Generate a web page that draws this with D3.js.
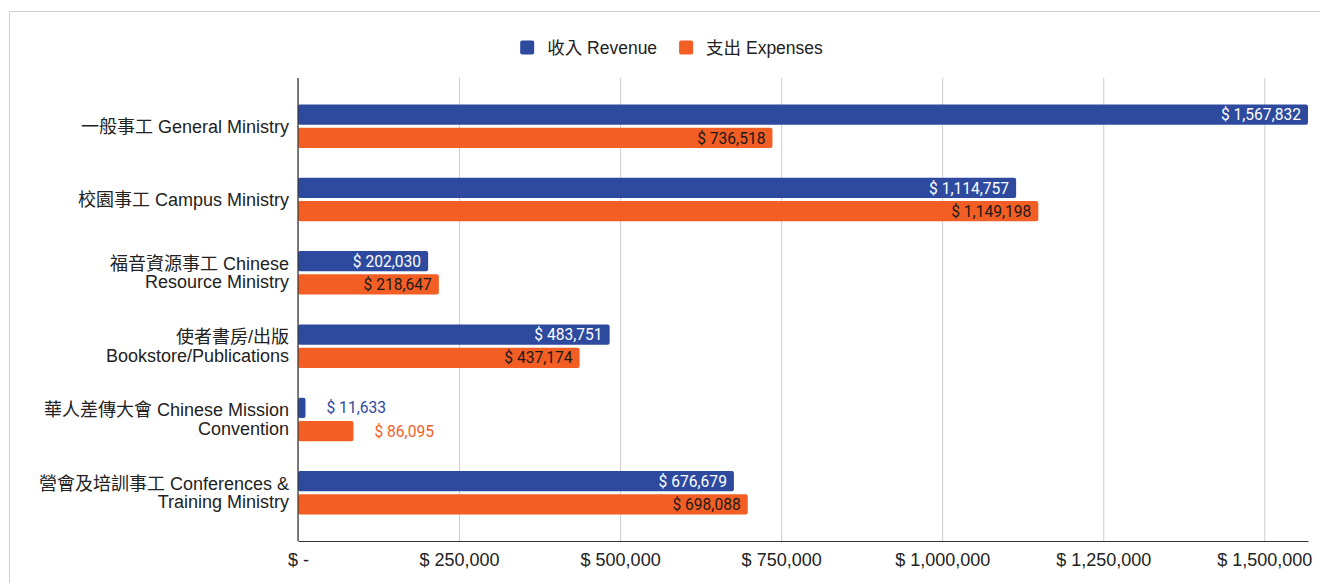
<!DOCTYPE html>
<html>
<head>
<meta charset="utf-8">
<script src="https://cdn.jsdelivr.net/npm/d3@7"></script>
<style>
  html, body { margin: 0; padding: 0; background: #fff; }
  svg { display: block; }
  text { font-family: "Liberation Sans", Arial, "Noto Sans CJK TC", sans-serif; }
</style>
</head>
<body>
<svg id="chart" width="1320" height="583"></svg>
<script>
const categories = [
  "一般事工 General Ministry",
  "校園事工 Campus Ministry",
  "福音資源事工 Chinese\nResource Ministry",
  "使者書房/出版\nBookstore/Publications",
  "華人差傳大會 Chinese Mission\nConvention",
  "營會及培訓事工 Conferences &\nTraining Ministry"
];
const seriesNames = ["收入 Revenue", "支出 Expenses"];
const revenue = [1567832, 1114757, 202030, 483751, 11633, 676679];
const expenses = [736518, 1149198, 218647, 437174, 86095, 698088];
const tickValues = [0, 250000, 500000, 750000, 1000000, 1250000, 1500000];
const colors = ["#2D4A9F", "#F35E25"];
const insideLabelColors = ["#ffffff", "#1a1a1a"];

const seriesValues = [revenue, expenses];
const svg = d3.select("#chart");
const W = 1320, H = 583;
const margin = { left: 298, right: 12, top: 78, bottom: 42 };
const plotW = W - margin.left - margin.right;
const plotH = H - margin.top - margin.bottom;

// frame
svg.append("rect").attr("x", 9.5).attr("y", 11.5).attr("width", W + 20).attr("height", H + 20)
  .attr("fill", "#fff").attr("stroke", "#cfcfcf").attr("stroke-width", 1);

const fmt = v => v === 0 ? "$ -" : "$ " + d3.format(",")(v);

const x = d3.scaleLinear()
  .domain([0, d3.max(seriesValues.flat())])
  .range([margin.left, margin.left + plotW]);

const y = d3.scaleBand().domain(categories)
  .range([margin.top, margin.top + plotH])
  .paddingInner(0.407).paddingOuter(0.362);

const ys = d3.scaleBand().domain(seriesNames)
  .range([0, y.bandwidth()]).paddingInner(0.13).paddingOuter(0);

// gridlines
const gridG = svg.append("g").attr("transform", `translate(0,${margin.top + plotH})`)
  .call(d3.axisBottom(x).tickValues(tickValues).tickSize(-plotH).tickFormat(""));
gridG.select(".domain").remove();
gridG.selectAll(".tick line").attr("stroke", "#cccccc").attr("stroke-width", 1);

// bars
const groups = svg.append("g").selectAll("g").data(categories).join("g")
  .attr("transform", d => `translate(0,${y(d)})`);

seriesNames.forEach((s, si) => {
  groups.append("rect")
    .attr("x", x(0))
    .attr("y", ys(s))
    .attr("width", (d, i) => x(seriesValues[si][i]) - x(0))
    .attr("height", ys.bandwidth())
    .attr("rx", 2)
    .attr("fill", colors[si]);
});

// value labels
seriesNames.forEach((s, si) => {
  groups.append("text")
    .attr("y", ys(s) + ys.bandwidth() / 2)
    .attr("dy", "0.36em")
    .style("font-family", "Roboto, 'Liberation Sans', Arial, sans-serif")
    .style("font-size", "15.6px")
    .text((d, i) => fmt(seriesValues[si][i]))
    .each(function (d, i) {
      const v = seriesValues[si][i];
      const bw = x(v) - x(0);
      const tw = this.getComputedTextLength();
      const t = d3.select(this);
      if (tw + 14 < bw) {
        t.attr("x", x(v) - 7).attr("text-anchor", "end").attr("fill", insideLabelColors[si]);
      } else {
        t.attr("x", x(v) + 21).attr("text-anchor", "start").attr("fill", colors[si]);
      }
    });
});

// category labels
const catG = svg.append("g");
categories.forEach(c => {
  const lines = c.split("\n");
  const cy = y(c) + y.bandwidth() / 2;
  const lh = 18.5;
  const t = catG.append("text")
    .attr("text-anchor", "end")
    .attr("fill", "#222")
    .style("font-size", "18px");
  lines.forEach((ln, li) => {
    t.append("tspan")
      .attr("x", margin.left - 9)
      .attr("y", cy + (li - (lines.length - 1) / 2) * lh)
      .attr("dy", "0.35em")
      .text(ln);
  });
});

// x axis
const xAxis = svg.append("g").attr("transform", `translate(0,${margin.top + plotH})`)
  .call(d3.axisBottom(x).tickValues(tickValues).tickFormat(fmt).tickSize(0).tickPadding(12));
xAxis.select(".domain").attr("stroke", "#333").attr("stroke-width", 1.2);
xAxis.selectAll("text").attr("fill", "#222").style("font-size", "18px")
  .style("font-family", "'Liberation Sans', Arial, sans-serif");

// y axis line
svg.append("line")
  .attr("x1", x(0)).attr("x2", x(0))
  .attr("y1", margin.top).attr("y2", margin.top + plotH)
  .attr("stroke", "#333").attr("stroke-width", 1.2);

// legend
const legend = svg.append("g");
let lx = 0;
seriesNames.forEach((s, si) => {
  const g = legend.append("g");
  g.append("rect").attr("x", 0).attr("y", -7).attr("width", 14).attr("height", 14)
    .attr("rx", 2).attr("fill", colors[si]);
  const t = g.append("text").attr("x", 27).attr("y", 0).attr("dy", "0.35em")
    .attr("fill", "#222").style("font-size", "17.5px").text(s);
  const w = 27 + t.node().getComputedTextLength();
  g.attr("transform", `translate(${lx},0)`);
  lx += w + 22;
});
const totalW = lx - 22;
legend.attr("transform", `translate(${671.5 - totalW / 2},47.5)`);
</script>
</body>
</html>
